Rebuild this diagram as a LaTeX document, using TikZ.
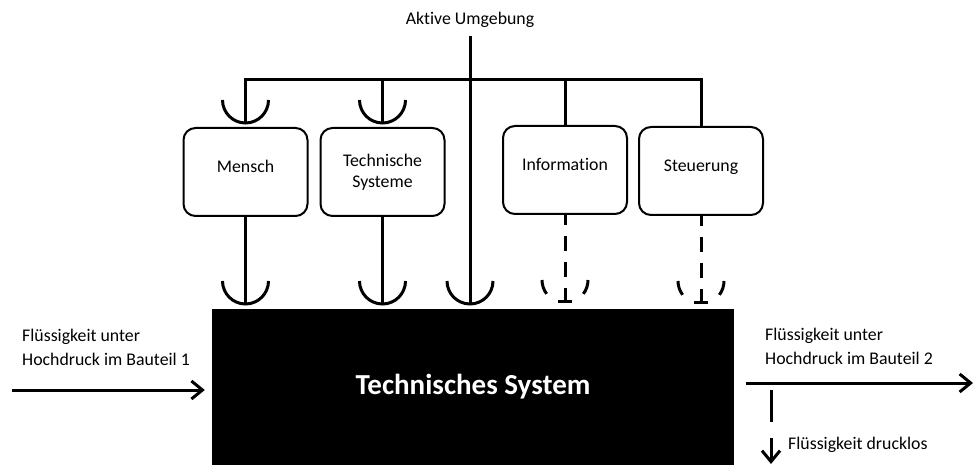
\documentclass[tikz,border=0pt]{standalone}
\usepackage{fontspec}
\setmainfont{Carlito}[Ligatures=NoCommon]
\usetikzlibrary{arrows.meta}

\tikzset{
  wire/.style={line width=3pt},
  dashwire/.style={line width=3pt, dash pattern=on 15pt off 11pt},
  flow/.style={line width=3pt, -{Straight Barb[length=11pt,width=18pt]}},
  block/.style={draw, line width=2pt, rounded corners=12pt,
    minimum width=124pt, minimum height=88pt, inner sep=0pt,
    align=center, font=\fontsize{17.8}{21}\selectfont},
  oneline/.style={text height=11pt, text depth=9pt},
  lbl/.style={inner sep=0pt, align=left, font=\fontsize{17.8}{23.5}\selectfont},
  % open cup: receptor of an interface, origin at its lowest point
  cup/.pic={\draw[line width=3pt] (-23pt,23pt) arc[start angle=180,end angle=360,radius=23pt];},
  % dashed cup with a short bar: a weak (informational) interface
  dashcup/.pic={
    \draw[line width=3pt] (-23pt,23pt) arc[start angle=180,end angle=217,radius=23pt];
    \draw[line width=3pt] ([shift={(0,23pt)}]323:23pt) arc[start angle=323,end angle=360,radius=23pt];
    \draw[line width=3pt] (-7pt,1.5pt) -- (7pt,1.5pt);
  }
}

\begin{document}
\begin{tikzpicture}[x=1pt,y=-1pt]
\useasboundingbox (0,0) rectangle (975,465);

% surrounding elements
\node[block, oneline] (mensch) at (245.5,172) {Mensch};
\node[block] (techsys) at (382.5,172) {Technische\\Systeme};
\node[block, oneline] (info) at (565,170) {Information};
\node[block, oneline] (steuer) at (701,171) {Steuerung};

% the system itself
\node[fill=black, minimum width=522pt, minimum height=156pt, inner sep=0pt,
      text=white, font=\bfseries\fontsize{29}{34}\selectfont] (sys) at (473,387) {Technisches System};

\node[inner sep=0pt, anchor=base, font=\fontsize{17.8}{21}\selectfont] (env) at (470,25) {Aktive Umgebung};

% bus of the active environment
\coordinate (busL) at (245.5,80);
\coordinate (cupM) at (245.5,123);
\coordinate (busT) at (382.5,80);
\coordinate (cupT) at (382.5,123);
\coordinate (busI) at (565,80);
\coordinate (busS) at (701,80);
\coordinate (trunkTop) at (470,36);
\coordinate (cupSys) at (470,304);

\draw[wire] (cupM) -- (busL) -- (busS) -- (steuer.north);
\draw[wire] (busT) -- (cupT);
\draw[wire] (busI) -- (info.north);
\draw[wire] (trunkTop) -- (cupSys);
\pic at (cupM) {cup};
\pic at (cupT) {cup};
\pic at (cupSys) {cup};

% effects on the system
\coordinate (cupMs) at (245.5,304);
\coordinate (cupTs) at (382.5,304);
\coordinate (cupIs) at (565,303);
\coordinate (cupSs) at (701,304);
\draw[wire] (mensch.south) -- (cupMs);
\draw[wire] (techsys.south) -- (cupTs);
\draw[dashwire] (cupIs) -- (info.south);
\draw[dashwire] (cupSs) -- (steuer.south);
\pic at (cupMs) {cup};
\pic at (cupTs) {cup};
\pic at (cupIs) {dashcup};
\pic at (cupSs) {dashcup};

% fluid flows
\coordinate (inStart) at (12,390);
\coordinate (outEnd) at (973,383);
\draw[flow, shorten >=7pt] (inStart) -- (sys.west |- inStart);
\draw[flow, shorten <=12pt] (sys.east |- outEnd) -- (outEnd);

\coordinate (drainA) at (771,390);
\coordinate (drainB) at (771,422);
\coordinate (drainC) at (771,438);
\coordinate (drainD) at (771,464);
\draw[wire] (drainA) -- (drainB);
\draw[flow] (drainC) -- (drainD);

\node[lbl, anchor=north west] (inLbl) at (22,329) {Flüssigkeit unter\\Hochdruck im Bauteil 1};
\node[lbl, anchor=north west] (outLbl) at (765,328) {Flüssigkeit unter\\Hochdruck im Bauteil 2};
\node[lbl, anchor=base west] (drainLbl) at (788,449) {Flüssigkeit drucklos};
\end{tikzpicture}
\end{document}
